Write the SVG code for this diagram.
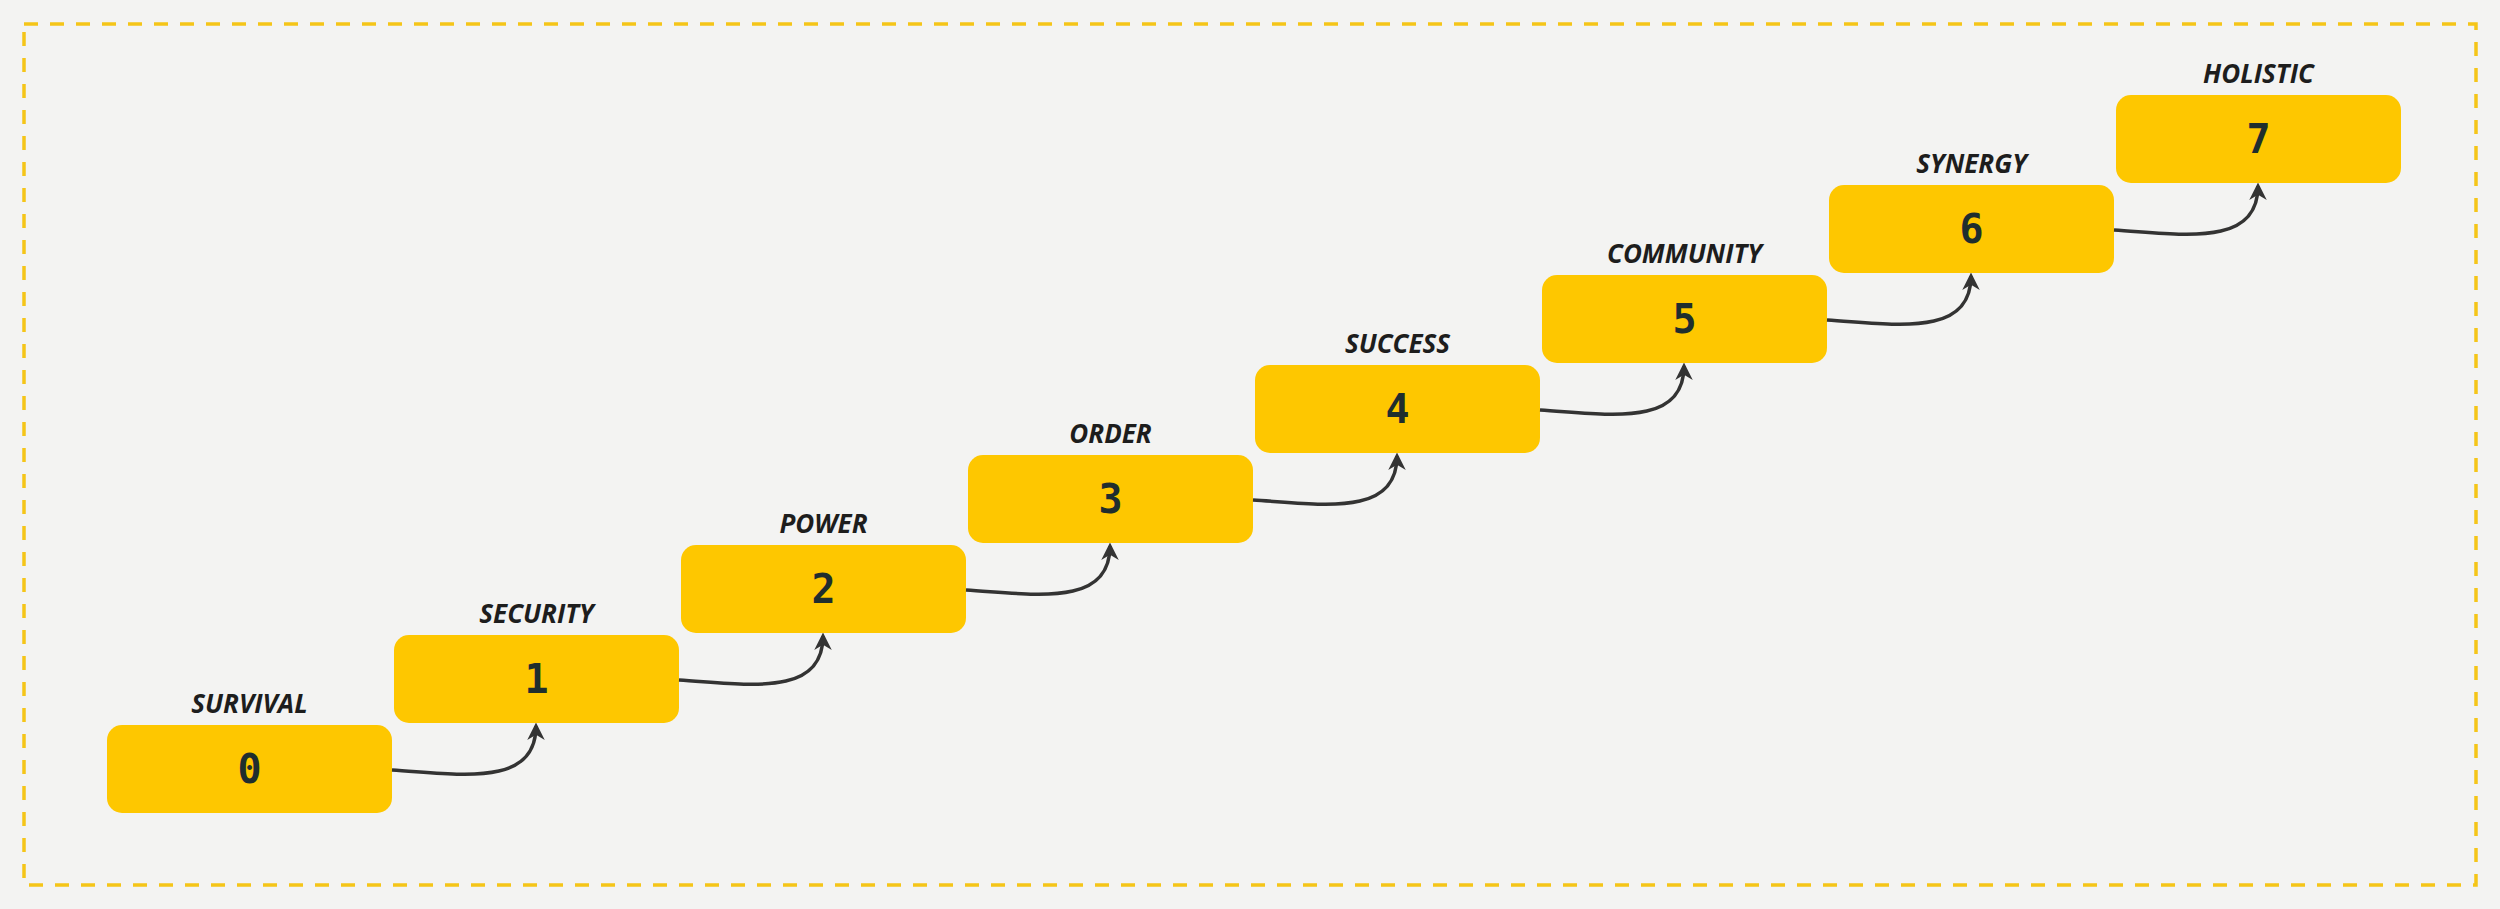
<svg xmlns="http://www.w3.org/2000/svg" width="2500" height="909" viewBox="0 0 2500 909">
<style>
.box{fill:#fec700}
.lbl{font-family:"Open Sans","Noto Sans",sans-serif;font-style:italic;font-weight:bold;font-size:26px;fill:#1d1d1d;text-anchor:middle}
.num{font-family:"DejaVu Sans Mono","Liberation Mono",monospace;font-weight:bold;font-size:40px;fill:#1f2e2e;text-anchor:middle}
.c{fill:none;stroke:#333;stroke-width:3.5}
</style>
<defs><marker id="a" viewBox="0 0 10 10" refX="8" refY="5" markerWidth="5" markerHeight="5" orient="auto"><path d="M0,0 L10,5 L0,10 L3,5 Z" fill="#333"/></marker></defs>
<rect width="2500" height="909" fill="#f3f3f2"/>
<rect x="24" y="24" width="2452" height="861" fill="none" stroke="#f5c518" stroke-width="3.5" stroke-dasharray="14,12"/>
<g id="n0"><rect class="box" x="107" y="725" width="285" height="88" rx="15"/><text class="lbl" x="249.5" y="713">SURVIVAL</text><text class="num" x="249.5" y="783">0</text></g>
<g id="n1"><rect class="box" x="394" y="635" width="285" height="88" rx="15"/><text class="lbl" x="536.5" y="623">SECURITY</text><text class="num" x="536.5" y="693">1</text></g>
<g id="n2"><rect class="box" x="681" y="545" width="285" height="88" rx="15"/><text class="lbl" x="823.5" y="533">POWER</text><text class="num" x="823.5" y="603">2</text></g>
<g id="n3"><rect class="box" x="968" y="455" width="285" height="88" rx="15"/><text class="lbl" x="1110.5" y="443">ORDER</text><text class="num" x="1110.5" y="513">3</text></g>
<g id="n4"><rect class="box" x="1255" y="365" width="285" height="88" rx="15"/><text class="lbl" x="1397.5" y="353">SUCCESS</text><text class="num" x="1397.5" y="423">4</text></g>
<g id="n5"><rect class="box" x="1542" y="275" width="285" height="88" rx="15"/><text class="lbl" x="1684.5" y="263">COMMUNITY</text><text class="num" x="1684.5" y="333">5</text></g>
<g id="n6"><rect class="box" x="1829" y="185" width="285" height="88" rx="15"/><text class="lbl" x="1971.5" y="173">SYNERGY</text><text class="num" x="1971.5" y="243">6</text></g>
<g id="n7"><rect class="box" x="2116" y="95" width="285" height="88" rx="15"/><text class="lbl" x="2258.5" y="83">HOLISTIC</text><text class="num" x="2258.5" y="153">7</text></g>
<g id="connectors">
<path class="c" marker-end="url(#a)" d="M392,770 C460,774 536,788 536,726"/>
<path class="c" marker-end="url(#a)" d="M679,680 C747,684 823,698 823,636"/>
<path class="c" marker-end="url(#a)" d="M966,590 C1034,594 1110,608 1110,546"/>
<path class="c" marker-end="url(#a)" d="M1253,500 C1321,504 1397,518 1397,456"/>
<path class="c" marker-end="url(#a)" d="M1540,410 C1608,414 1684,428 1684,366"/>
<path class="c" marker-end="url(#a)" d="M1827,320 C1895,324 1971,338 1971,276"/>
<path class="c" marker-end="url(#a)" d="M2114,230 C2182,234 2258,248 2258,186"/>
</g>
</svg>
